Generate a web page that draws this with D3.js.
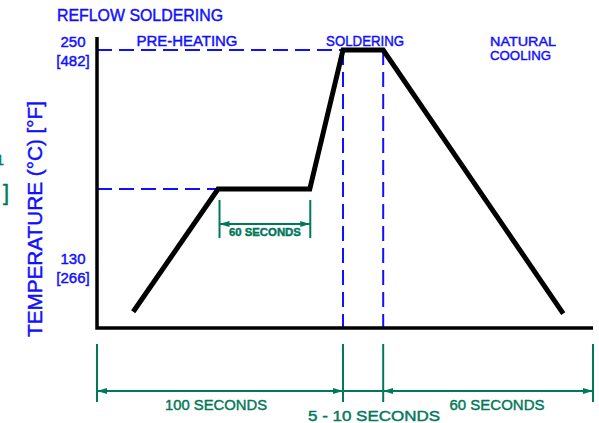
<!DOCTYPE html>
<html lang="en">
<head>
    <meta charset="UTF-8">
    <title>Reflow soldering</title>
    <script src="https://d3js.org/d3.v7.min.js"></script>
    <style>
        body { margin: 0; background: #fff; }
        text { font-family: "Liberation Sans", Arial, sans-serif; stroke-width: 0.45px; }
        .b { fill: #1010ff; stroke: #1010ff; }
        .g { fill: #00795a; stroke: #00795a; }
    </style>
</head>
<body>

<script>
    // schematic time units (0..100 across the plot), temperature in C
    let profileTime = [7.3, 24.4, 42.9, 49.6, 57.7, 94.0];
    let profileTemp = [105, 173, 173, 250, 250, 104];
    let phaseEdges = [0, 49.6, 57.7, 100];
    let phaseNames = ["PRE-HEATING", "SOLDERING", "NATURAL COOLING"];
    let dimLabels = ["100 SECONDS", "5 - 10 SECONDS", "60 SECONDS"];
    let tickC = [250, 130];
    let tickF = ["[482]", "[266]"];
    let plateauLabel = "60 SECONDS";

    let blue = "#1010ff", green = "#00795a";

    let svg = d3.select("body").append("svg")
        .attr("width", 599)
        .attr("height", 423);

    let x = d3.scaleLinear().domain([0, 100]).range([97, 593]);
    let y = d3.scaleLinear().domain([96, 250]).range([328, 50]);

    // arrow marker
    let defs = svg.append("defs");
    defs.append("marker")
        .attr("id", "arr")
        .attr("viewBox", "0 0 10 6")
        .attr("refX", 10).attr("refY", 3)
        .attr("markerWidth", 10).attr("markerHeight", 6)
        .attr("markerUnits", "userSpaceOnUse")
        .attr("orient", "auto-start-reverse")
        .append("path").attr("d", "M0,0 L10,3 L0,6 Z").attr("fill", green);

    // title
    svg.append("text").attr("class", "b").attr("x", 57).attr("y", 21)
        .style("font-size", "17px")
        .attr("textLength", 166).attr("lengthAdjust", "spacingAndGlyphs")
        .text("REFLOW SOLDERING");

    // dashed guides
    let dash = svg.append("g").attr("stroke", blue).attr("stroke-width", 2)
        .attr("stroke-dasharray", "15,7").attr("fill", "none");
    dash.append("line").attr("x1", x(0)).attr("x2", x(profileTime[3]))
        .attr("y1", y(profileTemp[3])).attr("y2", y(profileTemp[3]));
    dash.append("line").attr("x1", x(0)).attr("x2", x(profileTime[1]))
        .attr("y1", y(profileTemp[1])).attr("y2", y(profileTemp[1]));
    dash.selectAll(".v").data([phaseEdges[1], phaseEdges[2]]).enter()
        .append("line").attr("class", "v")
        .attr("x1", d => x(d)).attr("x2", d => x(d))
        .attr("y1", y(250)).attr("y2", y(96));

    // axes
    svg.append("path")
        .attr("d", `M${x(0)},37 L${x(0)},${y(96)} L${x(100)},${y(96)}`)
        .attr("fill", "none").attr("stroke", "black").attr("stroke-width", 3.5);

    // profile
    let pts = profileTime.map((t, i) => [t, profileTemp[i]]);
    svg.append("path")
        .datum(pts)
        .attr("d", d3.line().x(d => x(d[0])).y(d => y(d[1])))
        .attr("fill", "none").attr("stroke", "black")
        .attr("stroke-width", 5).attr("stroke-linejoin", "miter");

    // y tick labels
    tickC.forEach((c, i) => {
        svg.append("text").attr("class", "b").attr("x", 73).attr("y", y(c) - 3)
            .attr("text-anchor", "middle")
            .style("font-size", "15px").text(c);
        svg.append("text").attr("class", "b").attr("x", 73).attr("y", y(c) + 16)
            .attr("text-anchor", "middle")
            .style("font-size", "15px").text(tickF[i]);
    });

    // y axis title
    svg.append("text").attr("class", "b")
        .attr("transform", "translate(42,219) rotate(-90)")
        .attr("text-anchor", "middle")
        .style("font-size", "21px")
        .attr("textLength", 236).attr("lengthAdjust", "spacingAndGlyphs")
        .text("TEMPERATURE (\u00b0C) [\u00b0F]");

    // clipped leftovers at the left edge
    svg.append("text").attr("class", "g").attr("x", 4).attr("y", 165).attr("text-anchor", "end")
        .style("font-size", "15px").text("1");
    svg.append("text").attr("class", "g").attr("x", 9).attr("y", 200).attr("text-anchor", "end")
        .style("font-size", "22px").text("]");

    // phase labels
    let phaseX = [(x(0) + x(phaseEdges[1])) / 2 - 33, (x(phaseEdges[1]) + x(phaseEdges[2])) / 2 + 2];
    svg.append("text").attr("class", "b").attr("x", phaseX[0]).attr("y", 46).attr("text-anchor", "middle")
        .style("font-size", "15px")
        .attr("textLength", 101).attr("lengthAdjust", "spacingAndGlyphs")
        .text(phaseNames[0]);
    svg.append("text").attr("class", "b").attr("x", phaseX[1]).attr("y", 46).attr("text-anchor", "middle")
        .style("font-size", "15px")
        .attr("textLength", 78).attr("lengthAdjust", "spacingAndGlyphs")
        .text(phaseNames[1]);
    phaseNames[2].split(" ").forEach((w, i) => {
        svg.append("text").attr("class", "b").attr("x", 490).attr("y", 46 + i * 14)
            .style("font-size", "13.5px")
            .attr("textLength", i == 0 ? 66 : 61).attr("lengthAdjust", "spacingAndGlyphs")
            .text(w);
    });

    // bottom dimensions
    let dim = svg.append("g").attr("stroke", green).attr("stroke-width", 2).attr("fill", "none");
    dim.selectAll(".t").data(phaseEdges).enter().append("line")
        .attr("x1", d => x(d)).attr("x2", d => x(d))
        .attr("y1", 344).attr("y2", 402);
    dim.append("line").attr("x1", x(phaseEdges[0])).attr("x2", x(phaseEdges[1]))
        .attr("y1", 391).attr("y2", 391)
        .attr("marker-start", "url(#arr)").attr("marker-end", "url(#arr)");
    dim.append("line").attr("x1", x(phaseEdges[1])).attr("x2", x(phaseEdges[2]))
        .attr("y1", 391).attr("y2", 391);
    dim.append("line").attr("x1", x(phaseEdges[2])).attr("x2", x(phaseEdges[3]))
        .attr("y1", 391).attr("y2", 391)
        .attr("marker-start", "url(#arr)").attr("marker-end", "url(#arr)");

    let dimX = [216, 374, 497], dimY = [410, 421, 410], dimW = [102, 132, 95];
    dimLabels.forEach((t, i) => {
        svg.append("text").attr("class", "g").attr("x", dimX[i]).attr("y", dimY[i])
            .attr("text-anchor", "middle")
            .style("font-size", "15px")
            .attr("textLength", dimW[i]).attr("lengthAdjust", "spacingAndGlyphs")
            .text(t);
    });

    // plateau dimension
    let pl = [profileTime[1] + 0.3, profileTime[2] + 0.1];
    dim.selectAll(".p").data(pl).enter().append("line")
        .attr("x1", d => x(d)).attr("x2", d => x(d))
        .attr("y1", 200).attr("y2", 238);
    dim.append("line").attr("x1", x(pl[0])).attr("x2", x(pl[1]))
        .attr("y1", 224).attr("y2", 224)
        .attr("marker-start", "url(#arr)").attr("marker-end", "url(#arr)");
    svg.append("text").attr("class", "g").attr("x", (x(pl[0]) + x(pl[1])) / 2).attr("y", 236)
        .attr("text-anchor", "middle")
        .style("font-size", "11px").style("font-weight", "bold")
        .attr("textLength", 72).attr("lengthAdjust", "spacingAndGlyphs")
        .text(plateauLabel);
</script>

</body>
</html>
